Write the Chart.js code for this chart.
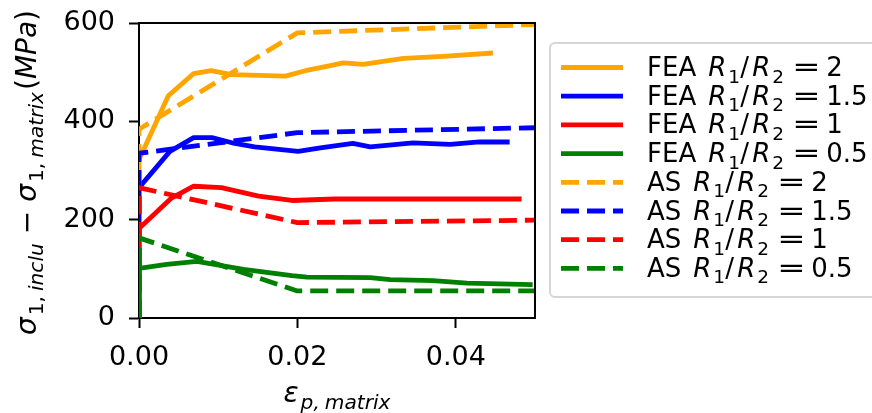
<!DOCTYPE html>
<html>
<head>
<meta charset="utf-8">
<script src="https://cdn.jsdelivr.net/npm/chart.js@4.4.1/dist/chart.umd.min.js"></script>
<style>
  html, body { margin: 0; padding: 0; background: #fff; }
  #wrap { width: 872px; height: 413px; }
</style>
</head>
<body>
<div id="wrap"><canvas id="chart" width="872" height="413"></canvas></div>
<script>
// strain values (x) and stress difference values (y, MPa)
const feaStrain2 = [0, 0, 0.0037, 0.0069, 0.0091, 0.0117, 0.0185, 0.021, 0.0243, 0.0258, 0.0283, 0.0304, 0.0334, 0.0384, 0.0447];
const feaStress2 = [0, 322, 452, 497, 503, 495, 492, 503, 514, 519, 516, 521, 528, 532, 539];

const feaStrain15 = [0, 0, 0.0039, 0.0069, 0.0092, 0.0121, 0.0146, 0.0201, 0.0229, 0.027, 0.0292, 0.0346, 0.0393, 0.043, 0.0468];
const feaStress15 = [0, 265, 339, 367, 367, 355, 348, 339, 346, 355, 348, 356, 353, 358, 358];

const feaStrain1 = [0, 0, 0.0041, 0.0069, 0.0104, 0.0151, 0.0193, 0.0247, 0.0483];
const feaStress1 = [0, 182, 244, 268, 265, 248, 239, 242, 242];

const feaStrain05 = [0, 0, 0.0035, 0.0073, 0.0132, 0.0193, 0.0212, 0.0292, 0.0317, 0.0371, 0.0414, 0.0497];
const feaStress05 = [0, 101, 109, 115, 99, 86, 83, 82, 78, 76, 71, 68];

const asStrain = [0, 0, 0.02, 0.05];
const asStress2 = [0, 384, 580, 597];
const asStress15 = [0, 335, 377, 387];
const asStress1 = [0, 265, 194, 199];
const asStress05 = [0, 163, 55, 55];

const xTicks = [0, 0.02, 0.04];
const yTicks = [0, 200, 400, 600];

const ratioLabels = ['2', '1.5', '1', '0.5'];
const colors = ['#FFA500', '#0000FF', '#FF0000', '#008000'];

const feaX = [feaStrain2, feaStrain15, feaStrain1, feaStrain05];
const feaY = [feaStress2, feaStress15, feaStress1, feaStress05];
const asY = [asStress2, asStress15, asStress1, asStress05];

const DASH = [18, 8];
const LW = 4.8;
const FONT = '"DejaVu Sans", sans-serif';

function pts(xs, ys) {
  return xs.map((x, i) => ({ x: x, y: ys[i] }));
}

const datasets = [];
feaX.forEach((xs, i) => {
  datasets.push({ label: 'FEA ' + ratioLabels[i], data: pts(xs, feaY[i]), borderColor: colors[i], dash: false });
});
asY.forEach((ys, i) => {
  datasets.push({ label: 'AS ' + ratioLabels[i], data: pts(asStrain, ys), borderColor: colors[i], borderDash: DASH, dash: true });
});
datasets.forEach((d, i) => {
  d.borderWidth = LW;
  d.pointRadius = 0;
  d.tension = 0;
  d.fill = false;
  d.borderJoinStyle = 'round';
  d.order = datasets.length - i;
});

function setFont(ctx, size, italic) {
  ctx.font = (italic ? 'italic ' : '') + size + 'px ' + FONT;
}

// draw a run of plain / italic / subscript pieces, starting at x, baseline y
function drawRuns(ctx, runs, x, y, size, measureOnly) {
  let cx = x;
  runs.forEach(r => {
    const s = r.sub ? size * 0.72 : size;
    setFont(ctx, s, r.it);
    if (!measureOnly) ctx.fillText(r.t, cx, y + (r.sub ? size * 0.26 : 0));
    cx += ctx.measureText(r.t).width + (r.gap || 0);
  });
  return cx - x;
}

// legend label: "FEA R1/R2 = 2" in mathtext style
function drawRatioLabel(ctx, prefix, val, x, y) {
  setFont(ctx, 26, false);
  ctx.fillText(prefix, x, y);
  const m = x + ctx.measureText(prefix).width + 12;
  setFont(ctx, 26, true);
  ctx.fillText('R', m, y);
  ctx.fillText('R', m + 44, y);
  setFont(ctx, 18.5, false);
  ctx.fillText('1', m + 20, y + 6.5);
  ctx.fillText('2', m + 64, y + 6.5);
  setFont(ctx, 26, false);
  ctx.fillText('/', m + 32, y);
  ctx.save();
  ctx.translate(m + 84, y);
  ctx.scale(1.3, 1);
  ctx.fillText('=', 0, 0);
  ctx.restore();
  ctx.fillText(val, m + 118, y);
}

const decorations = {
  id: 'decorations',
  afterDraw(chart) {
    const ctx = chart.ctx;
    const a = chart.chartArea;
    ctx.save();
    // top and right spines
    ctx.strokeStyle = '#000';
    ctx.lineWidth = 2;
    ctx.beginPath();
    ctx.moveTo(a.left - 1, a.top);
    ctx.lineTo(a.right, a.top);
    ctx.lineTo(a.right, a.bottom + 1);
    ctx.stroke();

    ctx.fillStyle = '#000';
    ctx.textBaseline = 'alphabetic';
    ctx.textAlign = 'left';

    // x axis title
    const xRuns = [{ t: 'ε', it: 1, gap: 2 }, { t: 'p,', it: 1, sub: 1, gap: 5 }, { t: 'matrix', it: 1, sub: 1 }];
    const xw = drawRuns(ctx, xRuns, 0, 0, 28, true);
    drawRuns(ctx, xRuns, (a.left + a.right) / 2 - xw / 2, 402, 28);

    // y axis title (rotated)
    const yRuns = [
      { t: 'σ', it: 1, gap: 2 }, { t: '1,', sub: 1, gap: 5 }, { t: 'inclu', it: 1, sub: 1, gap: 9 },
      { t: '−', gap: 9 },
      { t: 'σ', it: 1, gap: 2 }, { t: '1,', sub: 1, gap: 5 }, { t: 'matrix', it: 1, sub: 1, gap: 2 },
      { t: '(' }, { t: 'MPa', it: 1 }, { t: ')' }
    ];
    const yw = drawRuns(ctx, yRuns, 0, 0, 28, true);
    ctx.save();
    ctx.translate(36, (a.top + a.bottom) / 2 + 2);
    ctx.rotate(-Math.PI / 2);
    drawRuns(ctx, yRuns, -yw / 2, 0, 28);
    ctx.restore();

    // legend box
    const lx = 550, ly = 43, lw = 340, lh = 254;
    ctx.fillStyle = 'rgba(255,255,255,0.8)';
    ctx.strokeStyle = '#d6d6d6';
    ctx.lineWidth = 2;
    ctx.beginPath();
    ctx.roundRect(lx, ly, lw, lh, 5);
    ctx.fill();
    ctx.stroke();

    chart.data.datasets.forEach((d, i) => {
      const cy = 67.5 + i * 28.7;
      ctx.strokeStyle = d.borderColor;
      ctx.lineWidth = LW;
      ctx.setLineDash(d.dash ? DASH : []);
      ctx.beginPath();
      ctx.moveTo(561, cy);
      ctx.lineTo(623, cy);
      ctx.stroke();
      ctx.setLineDash([]);
      ctx.fillStyle = '#000';
      const parts = d.label.split(' ');
      drawRatioLabel(ctx, parts[0], parts[1], 647, cy + 8.5);
    });
    ctx.restore();
  }
};

const tickFont = { family: FONT, size: 27 };

new Chart(document.getElementById('chart'), {
  type: 'line',
  data: { datasets: datasets },
  options: {
    responsive: false,
    animation: false,
    devicePixelRatio: 1,
    layout: { padding: { left: 0, top: 23, right: 337, bottom: 0 } },
    plugins: { legend: { display: false }, tooltip: { enabled: false }, title: { display: false } },
    scales: {
      x: {
        type: 'linear',
        min: 0,
        max: 0.05,
        z: 1,
        afterBuildTicks: s => { s.ticks = xTicks.map(v => ({ value: v })); },
        afterFit: s => { s.height = 95; s.paddingLeft = 0; s.paddingRight = 0; },
        grid: { drawOnChartArea: false, drawTicks: true, tickLength: 10, tickWidth: 2, tickColor: '#000' },
        border: { display: true, color: '#000', width: 2 },
        ticks: { font: tickFont, color: '#000', padding: 14, maxRotation: 0, callback: v => v.toFixed(2) }
      },
      y: {
        type: 'linear',
        min: 0,
        max: 600,
        z: 1,
        afterBuildTicks: s => { s.ticks = yTicks.map(v => ({ value: v })); },
        afterFit: s => { s.width = 139; s.paddingTop = 0; s.paddingBottom = 0; },
        grid: { drawOnChartArea: false, drawTicks: true, tickLength: 10, tickWidth: 2, tickColor: '#000' },
        border: { display: true, color: '#000', width: 2 },
        ticks: { font: tickFont, color: '#000', padding: 14, callback: v => String(v) }
      }
    }
  },
  plugins: [decorations]
});
</script>
</body>
</html>
